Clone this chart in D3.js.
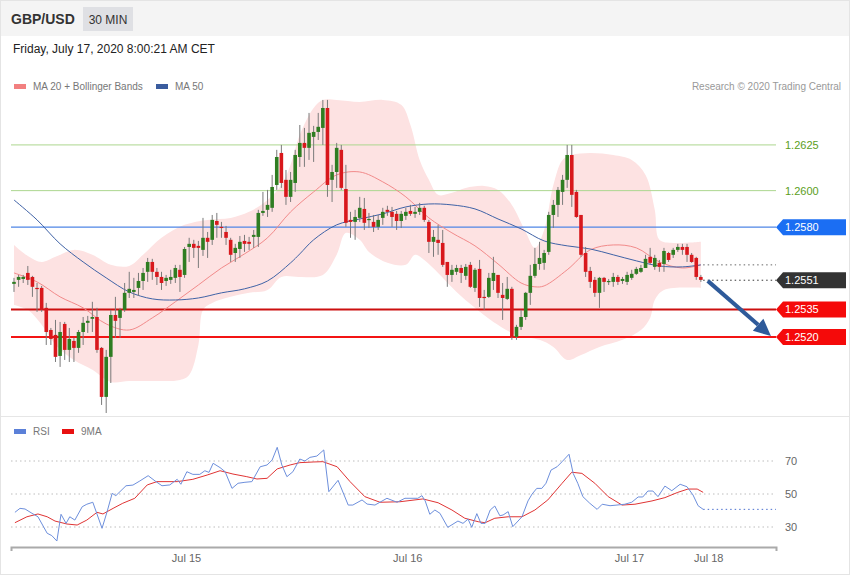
<!DOCTYPE html>
<html><head><meta charset="utf-8">
<script src="https://cdn.jsdelivr.net/npm/d3@7"></script>
<style>body{margin:0;background:#fff}svg{display:block;font-family:"Liberation Sans",Arial,sans-serif}</style>
</head><body><div id="chart"></div>
<script>
// ---------- DATA ----------
const opens = [1.25490,1.25512,1.25517,1.25550,1.25528,1.25468,1.25468,1.25359,1.25238,1.25211,
1.25096,1.25271,1.25129,1.25178,1.25140,1.25227,1.25277,1.25299,1.25309,1.25140,
1.24872,1.25091,1.25320,1.25304,1.25348,1.25441,1.25446,1.25468,1.25506,1.25556,
1.25610,1.25556,1.25528,1.25506,1.25512,1.25523,1.25567,1.25539,1.25692,1.25709,
1.25698,1.25676,1.25742,1.25731,1.25834,1.25802,1.25774,1.25731,1.25659,1.25681,
1.25725,1.25720,1.25747,1.25747,1.25878,1.25895,1.25906,1.26031,1.26206,1.26059,
1.25966,1.26042,1.26184,1.26261,1.26234,1.26294,1.26321,1.26343,1.26452,1.26059,
1.26102,1.26223,1.26009,1.25840,1.25829,1.25851,1.25900,1.25840,1.25829,1.25802,
1.25851,1.25895,1.25884,1.25873,1.25834,1.25862,1.25889,1.25873,1.25884,1.25906,
1.25829,1.25720,1.25731,1.25714,1.25610,1.25539,1.25556,1.25577,1.25534,1.25594,
1.25468,1.25572,1.25419,1.25419,1.25506,1.25539,1.25430,1.25408,1.25463,1.25200,
1.25255,1.25309,1.25441,1.25534,1.25599,1.25605,1.25665,1.25867,1.25922,1.25993,
1.26059,1.26195,1.25993,1.25867,1.25659,1.25561,1.25512,1.25441,1.25523,1.25501,
1.25501,1.25528,1.25506,1.25501,1.25523,1.25545,1.25556,1.25577,1.25638,1.25583,
1.25605,1.25599,1.25659,1.25649,1.25676,1.25692,1.25692,1.25649,1.25632,1.25528];
const highs = [1.25523,1.25539,1.25539,1.25588,1.25534,1.25495,1.25479,1.25386,1.25249,1.25293,
1.25282,1.25282,1.25249,1.25195,1.25238,1.25309,1.25315,1.25392,1.25359,1.25145,
1.25129,1.25348,1.25419,1.25359,1.25495,1.25556,1.25523,1.25550,1.25577,1.25632,
1.25627,1.25577,1.25556,1.25539,1.25567,1.25594,1.25594,1.25692,1.25742,1.25731,
1.25725,1.25851,1.25774,1.25867,1.25878,1.25829,1.25807,1.25742,1.25709,1.25752,
1.25758,1.25747,1.25785,1.25895,1.25993,1.26004,1.26086,1.26223,1.26250,1.26113,
1.26102,1.26223,1.26359,1.26343,1.26425,1.26354,1.26425,1.26496,1.26496,1.26141,
1.26261,1.26250,1.26141,1.25884,1.25895,1.25966,1.25960,1.25878,1.25867,1.25867,
1.25906,1.25917,1.25911,1.25889,1.25889,1.25906,1.25922,1.25911,1.25933,1.25917,
1.25840,1.25785,1.25813,1.25785,1.25610,1.25594,1.25594,1.25594,1.25599,1.25610,
1.25577,1.25621,1.25457,1.25550,1.25638,1.25539,1.25495,1.25528,1.25474,1.25266,
1.25348,1.25446,1.25594,1.25687,1.25720,1.25676,1.25884,1.25949,1.26020,1.26086,
1.26250,1.26250,1.26004,1.25867,1.25692,1.25583,1.25528,1.25528,1.25528,1.25517,
1.25550,1.25539,1.25528,1.25556,1.25567,1.25583,1.25594,1.25649,1.25687,1.25649,
1.25621,1.25687,1.25665,1.25687,1.25709,1.25709,1.25709,1.25659,1.25638,1.25539];
const lows = [1.25446,1.25474,1.25495,1.25484,1.25419,1.25337,1.25337,1.25156,1.25156,1.25063,
1.25036,1.25074,1.25063,1.25063,1.25113,1.25156,1.25222,1.25227,1.25113,1.24828,
1.24784,1.24948,1.25195,1.25195,1.25337,1.25413,1.25413,1.25424,1.25457,1.25501,
1.25512,1.25484,1.25457,1.25479,1.25490,1.25495,1.25446,1.25523,1.25610,1.25632,
1.25577,1.25643,1.25632,1.25703,1.25742,1.25742,1.25703,1.25610,1.25610,1.25632,
1.25665,1.25676,1.25687,1.25692,1.25862,1.25856,1.25884,1.26004,1.26015,1.25922,
1.25938,1.25993,1.26130,1.26130,1.26168,1.26157,1.26277,1.26250,1.25966,1.25938,
1.26015,1.26004,1.25802,1.25742,1.25731,1.25829,1.25785,1.25796,1.25774,1.25785,
1.25813,1.25862,1.25802,1.25785,1.25796,1.25840,1.25862,1.25851,1.25867,1.25829,
1.25659,1.25638,1.25649,1.25583,1.25474,1.25501,1.25539,1.25495,1.25512,1.25468,
1.25446,1.25364,1.25348,1.25413,1.25457,1.25413,1.25293,1.25402,1.25184,1.25184,
1.25238,1.25293,1.25375,1.25523,1.25567,1.25567,1.25649,1.25796,1.25856,1.25922,
1.26015,1.25911,1.25851,1.25638,1.25528,1.25468,1.25419,1.25359,1.25446,1.25484,
1.25474,1.25484,1.25490,1.25484,1.25512,1.25539,1.25550,1.25577,1.25594,1.25567,
1.25556,1.25556,1.25610,1.25632,1.25665,1.25649,1.25610,1.25605,1.25512,1.25501];
const closes = [1.25501,1.25528,1.25528,1.25512,1.25474,1.25463,1.25348,1.25227,1.25189,1.25091,
1.25227,1.25129,1.25189,1.25140,1.25227,1.25277,1.25288,1.25309,1.25129,1.24872,
1.25091,1.25320,1.25288,1.25348,1.25441,1.25463,1.25457,1.25506,1.25550,1.25610,
1.25556,1.25528,1.25495,1.25523,1.25528,1.25577,1.25528,1.25681,1.25709,1.25687,
1.25687,1.25742,1.25720,1.25840,1.25813,1.25796,1.25742,1.25649,1.25687,1.25720,
1.25709,1.25709,1.25758,1.25878,1.25889,1.25922,1.26020,1.26184,1.26042,1.25966,
1.26059,1.26195,1.26261,1.26234,1.26316,1.26321,1.26349,1.26452,1.26031,1.26102,
1.26234,1.26015,1.25824,1.25829,1.25856,1.25906,1.25824,1.25845,1.25802,1.25840,
1.25884,1.25884,1.25856,1.25834,1.25873,1.25884,1.25873,1.25884,1.25906,1.25840,
1.25720,1.25747,1.25714,1.25594,1.25539,1.25567,1.25577,1.25550,1.25583,1.25474,
1.25567,1.25413,1.25413,1.25523,1.25550,1.25441,1.25413,1.25463,1.25200,1.25255,
1.25309,1.25441,1.25534,1.25599,1.25632,1.25659,1.25867,1.25922,1.26004,1.26059,
1.26195,1.25977,1.25856,1.25649,1.25556,1.25501,1.25441,1.25523,1.25501,1.25506,
1.25528,1.25501,1.25517,1.25539,1.25545,1.25572,1.25577,1.25627,1.25605,1.25632,
1.25583,1.25670,1.25621,1.25676,1.25692,1.25676,1.25649,1.25610,1.25528,1.25512];

// MA 50 (blue) sampled at candle indices
const ma50Idx = [0,5,10,15,20,25,30,35,40,45,50,55,60,62,65,70,75,80,85,90,95,100,105,110,115,120,125,130,135,140,145,149];
const ma50Val = [1.25949,1.25840,1.25709,1.25610,1.25523,1.25446,1.25408,1.25402,1.25413,1.25441,1.25463,1.25506,1.25605,1.25654,1.25731,1.25813,1.25845,1.25873,1.25911,1.25927,1.25922,1.25900,1.25845,1.25791,1.25725,1.25698,1.25681,1.25649,1.25616,1.25588,1.25583,1.25594];
// MA 20 (middle Bollinger)
const ma20Idx = [0,5,10,15,20,25,30,35,40,45,50,55,60,65,70,75,80,85,90,95,100,105,110,113,115,120,125,130,135,140,145,149];
const ma20Val = [1.25550,1.25501,1.25419,1.25359,1.25271,1.25238,1.25304,1.25392,1.25484,1.25577,1.25654,1.25742,1.25884,1.25993,1.26086,1.26102,1.26048,1.25966,1.25851,1.25769,1.25698,1.25599,1.25495,1.25474,1.25479,1.25567,1.25676,1.25703,1.25687,1.25610,1.25577,1.25594];
// Bollinger upper band
const upperIdx = [0,3,6,9,13,17,21,25,28,32,37,42,47,51,55,58,60,62,65,67,70,75,80,84,86,88,90,92,95,98,102,105,108,111,113,115,117,119,121,125,130,134,137,139,140,143,149];
const upperVal = [1.25703,1.25643,1.25610,1.25638,1.25676,1.25649,1.25594,1.25588,1.25649,1.25742,1.25813,1.25840,1.25851,1.25884,1.25949,1.26031,1.26141,1.26305,1.26452,1.26496,1.26496,1.26485,1.26496,1.26469,1.26359,1.26168,1.26059,1.25977,1.25988,1.26015,1.26026,1.26004,1.25922,1.25774,1.25687,1.25785,1.26031,1.26168,1.26195,1.26206,1.26195,1.26168,1.26086,1.25895,1.25731,1.25714,1.25720];
// Bollinger lower band
const lowerIdx = [0,3,6,9,13,17,21,25,30,36,38,40,41,43,47,51,55,58,62,67,70,72,75,77,81,85,87,89,92,96,100,104,109,114,117,120,123,127,132,136,138,139,141,149];
const lowerVal = [1.25375,1.25348,1.25266,1.25156,1.25074,1.25020,1.24954,1.24959,1.24959,1.24965,1.24992,1.25156,1.25348,1.25386,1.25419,1.25441,1.25457,1.25528,1.25528,1.25539,1.25649,1.25769,1.25731,1.25665,1.25605,1.25594,1.25649,1.25621,1.25550,1.25446,1.25359,1.25282,1.25211,1.25184,1.25145,1.25074,1.25101,1.25145,1.25184,1.25238,1.25304,1.25402,1.25457,1.25468];

// RSI and its 9-period MA
const rsiIdx = [0.2,1.3,2.4,3.9,5.2,7.2,8.2,9.3,10.2,11.3,12.1,13.2,14.8,15.8,17.1,19.1,20.2,21.3,22.1,24.3,25.8,27.3,29.1,30.6,32.1,33.8,35.4,36.2,37.5,38.8,40.3,41.4,42.3,43.2,44.7,45.8,47.3,48.6,50.1,51.6,53.4,54.9,56,57.1,58.1,59.2,60.5,62,63.1,64.2,65.7,67.2,68.3,70.3,72.5,73.5,75.5,76.6,78.3,80.9,83.1,84.8,87.6,88.5,89.2,90.2,91.3,92.4,94.1,96.3,97.4,98.5,99.3,100.4,101.3,102.2,103.3,104.3,105.4,106.1,107.2,108.2,110.2,111.5,112.4,113.4,114.5,115.4,116.5,117.8,118.9,120.4,121.3,122.3,123.4,124.9,126.5,127.6,129.3,130.8,132.5,134,135.4,136.4,137.5,138.6,139.7,141.2,142.7,144.5,146,147.3,148.4,149.5];
const rsiVal = [38.9,41.3,40.9,38.3,36.2,26.2,24.8,21.5,37.7,32.2,36.2,34.2,42.3,43.8,45,29.2,39.3,50.4,49,55,55.4,57.9,61.1,57.9,55,55.5,58.9,55.9,63.5,61.9,61.9,64.1,63.1,68.6,66,63.5,53.4,56.5,57.1,57.5,66.5,67.6,70.6,78.3,67.6,60.5,63.5,71.2,70,72.2,73,76.7,51.4,58.3,43.3,43.3,46.4,43.9,43.3,47.4,45,47.4,47.4,49,45.8,37.7,40.3,38.3,29.8,33.6,32.2,34.8,29.8,38.1,32.2,32.2,40.3,42.7,36.8,37.3,39.3,30.2,36.2,45.8,50,53.4,53.4,56.5,64.5,66.5,69.6,74.1,62.5,56.5,48.4,44.4,40.7,43.8,42.9,43.3,43.8,45,48.2,48.2,51.8,51.8,48.4,54.8,52,55.9,54.4,49.4,42.9,40.7];
const rsiMaIdx = [0.2,2.8,5.2,7.2,8.9,11.5,13.7,15.8,18,19.3,21.5,23.6,26.2,28.9,31,35.4,38.8,41.9,44.7,47.5,50.5,52.7,54.9,57.1,59.9,62,64.9,67,70.1,72.9,76.1,79.4,83.7,88.7,92,95,97.8,100.7,102.2,104.3,107.2,110.2,113,115.8,118.9,121,123.2,126,128.9,131.9,134.7,138.4,141.2,144,146.2,148.2,149.5];
const rsiMaVal = [32.6,36.2,37.9,36.2,33.6,31.8,31.2,34.2,38.9,37.9,41.3,44.4,47.4,55.5,57.5,57.5,58.9,61.5,64.1,62.1,60.5,59.1,59.5,65.2,67.6,69,69.4,69.6,66.5,57.5,48.4,45,45.3,47,44.7,40.3,35.3,33.2,32.6,35.3,36.2,36.2,40.3,46.4,56.5,63.2,62.5,56.5,48.4,43.3,43.8,45.8,47.8,51,53,53,51];
const rsiLevels = [70, 50, 30];

// Key levels
const levelValues = [1.2625, 1.2600, 1.2580, 1.2551, 1.2535, 1.2520];
const levelLabels = ["1.2625", "1.2600", "1.2580", "1.2551", "1.2535", "1.2520"];
const maLevel = 1.25594;      // dotted MA level projected to the right
const targetPrice = 1.2520;   // arrow target

// Time axis (candle index of each date tick)
const tickIdx = [37.3, 85.3, 133.4, 150.6];
const tickLabels = ["Jul 15", "Jul 16", "Jul 17", "Jul 18"];

// ---------- DRAW ----------
const W = 850, H = 576;
const svg = d3.select("#chart").append("svg").attr("width", W).attr("height", H);
svg.append("rect").attr("x",0.5).attr("y",0.5).attr("width",W-1).attr("height",H-2).attr("fill","#fff").attr("stroke","#e4e4e4");

// header
svg.append("rect").attr("x",1).attr("y",1).attr("width",W-2).attr("height",35).attr("fill","#f4f4f4");
svg.append("text").attr("x",11).attr("y",24).attr("font-size",14).attr("font-weight","bold").attr("fill","#333").text("GBP/USD");
svg.append("rect").attr("x",83).attr("y",7).attr("width",50).attr("height",24).attr("fill","#dfe0e4");
svg.append("text").attr("x",108).attr("y",23.5).attr("text-anchor","middle").attr("font-size",12).attr("fill","#333").text("30 MIN");
svg.append("text").attr("x",13).attr("y",53).attr("font-size",12).attr("fill","#222").text("Friday, July 17, 2020 8:00:21 AM CET");

// legend
svg.append("rect").attr("x",14).attr("y",84).attr("width",12).attr("height",5).attr("fill","#f28080");
svg.append("text").attr("x",33).attr("y",90).attr("font-size",10).attr("fill","#777").text("MA 20 + Bollinger Bands");
svg.append("rect").attr("x",156).attr("y",84).attr("width",12).attr("height",5).attr("fill","#3a5c9e");
svg.append("text").attr("x",175).attr("y",90).attr("font-size",10).attr("fill","#777").text("MA 50");
svg.append("text").attr("x",841).attr("y",90).attr("text-anchor","end").attr("font-size",10).attr("fill","#999").text("Research \u00a9 2020 Trading Central");

// panel separator
svg.append("line").attr("x1",1).attr("x2",W-1).attr("y1",416.5).attr("y2",416.5).attr("stroke","#e6e6e6");

const x = d3.scaleLinear().domain([-0.65, 165.3]).range([11, 776]);
const y = d3.scaleLinear().domain([1.24773, 1.26523]).range([415, 95]);
const ry = d3.scaleLinear().domain([30, 70]).range([527, 461]);

// Bollinger band area
const upPts = upperIdx.map((d,i)=>[x(d), y(upperVal[i])]);
const loPts = lowerIdx.map((d,i)=>[x(d), y(lowerVal[i])]).reverse();
const lineGen = d3.line().curve(d3.curveCatmullRom.alpha(0.5));
const bandPath = lineGen(upPts) + "L" + lineGen(loPts).slice(1) + "Z";
svg.append("path").attr("d", bandPath).attr("fill","#fde2e2").attr("stroke","none");

// levels
const levelStyle = [
  {line:"#acd68f", w:1, dash:null, text:"#5b9e1c", box:null},
  {line:"#acd68f", w:1, dash:null, text:"#5b9e1c", box:null},
  {line:"#4f86e6", w:1.2, dash:null, text:"#fff", box:"#1b6ef3"},
  {line:"#333", w:1, dash:"1.5,3", text:"#fff", box:"#333"},
  {line:"#cc0f0f", w:2, dash:null, text:"#fff", box:"#f50a0a"},
  {line:"#f31414", w:2, dash:null, text:"#fff", box:"#f50a0a"}
];
levelValues.forEach((v,i)=>{
  const st = levelStyle[i], yy = y(v);
  const x1 = (i===3) ? x(149.5) : 11;
  const ln = svg.append("line").attr("x1",x1).attr("x2",776).attr("y1",yy).attr("y2",yy)
    .attr("stroke",st.line).attr("stroke-width",st.w);
  if (st.dash) ln.attr("stroke-dasharray",st.dash);
  if (st.box) {
    svg.append("path").attr("d",`M776,${yy}L783,${yy-8}H846V${yy+8}H783Z`).attr("fill",st.box);
  }
  svg.append("text").attr("x",785).attr("y",yy+4).attr("font-size",11).attr("fill",st.text).text(levelLabels[i]);
});
// dotted MA level
svg.append("line").attr("x1",x(149.5)).attr("x2",776).attr("y1",y(maLevel)).attr("y2",y(maLevel))
  .attr("stroke","#666").attr("stroke-dasharray","1.5,3");

// MA lines
const mline = d3.line().curve(d3.curveCatmullRom.alpha(0.5));
svg.append("path").attr("d", mline(ma20Idx.map((d,i)=>[x(d), y(ma20Val[i])])))
  .attr("fill","none").attr("stroke","#f28a8a").attr("stroke-width",1);
svg.append("path").attr("d", mline(ma50Idx.map((d,i)=>[x(d), y(ma50Val[i])])))
  .attr("fill","none").attr("stroke","#3f62a6").attr("stroke-width",1);

// candles
const bw = 3.6;
const cg = svg.append("g");
opens.forEach((o,i)=>{
  const c = closes[i], up = c >= o;
  const cx = x(i);
  cg.append("line").attr("x1",cx).attr("x2",cx).attr("y1",y(highs[i])).attr("y2",y(lows[i]))
    .attr("stroke","#7a7a7a").attr("stroke-width",1);
  const yt = y(Math.max(o,c)), yb = y(Math.min(o,c));
  cg.append("rect").attr("x",cx-bw/2).attr("y",yt).attr("width",bw).attr("height",Math.max(1.2,yb-yt))
    .attr("fill", up ? "#2f7d22" : "#d8181c");
});

// arrow
const ax1 = x(150.5), ay1 = y(closes[closes.length-1]) + 1;
const ax2 = x(164.2), ay2 = y(targetPrice) - 1;
const ang = Math.atan2(ay2-ay1, ax2-ax1);
const hl = 17, hw = 8;
const bx = ax2 - hl*Math.cos(ang), by = ay2 - hl*Math.sin(ang);
svg.append("line").attr("x1",ax1).attr("y1",ay1).attr("x2",bx).attr("y2",by)
  .attr("stroke","#2e5a9a").attr("stroke-width",4);
svg.append("path").attr("d",`M${ax2},${ay2}L${bx+hw*Math.sin(ang)},${by-hw*Math.cos(ang)}L${bx-hw*Math.sin(ang)},${by+hw*Math.cos(ang)}Z`)
  .attr("fill","#2e5a9a");

// ---------- RSI panel ----------
svg.append("rect").attr("x",14).attr("y",429).attr("width",12).attr("height",5).attr("fill","#5b80d8");
svg.append("text").attr("x",33).attr("y",435).attr("font-size",10).attr("fill","#777").text("RSI");
svg.append("rect").attr("x",62).attr("y",429).attr("width",12).attr("height",5).attr("fill","#e81010");
svg.append("text").attr("x",81).attr("y",435).attr("font-size",10).attr("fill","#777").text("9MA");

rsiLevels.forEach(v=>{
  svg.append("line").attr("x1",11).attr("x2",776).attr("y1",ry(v)).attr("y2",ry(v))
    .attr("stroke","#bdbdbd").attr("stroke-dasharray","1.5,3");
  svg.append("text").attr("x",785).attr("y",ry(v)+4).attr("font-size",11).attr("fill","#666").text(v);
});
const rl = d3.line();
svg.append("path").attr("d", rl(rsiMaIdx.map((d,i)=>[x(d), ry(rsiMaVal[i])])))
  .attr("fill","none").attr("stroke","#e03434").attr("stroke-width",1);
svg.append("path").attr("d", rl(rsiIdx.map((d,i)=>[x(d), ry(rsiVal[i])])))
  .attr("fill","none").attr("stroke","#6d8fdc").attr("stroke-width",1);
svg.append("line").attr("x1",x(rsiIdx[rsiIdx.length-1])).attr("x2",776)
  .attr("y1",ry(rsiVal[rsiVal.length-1])).attr("y2",ry(rsiVal[rsiVal.length-1]))
  .attr("stroke","#4a6fcf").attr("stroke-dasharray","1.5,3");

// time axis
const axis = d3.axisBottom(x).tickValues(tickIdx).tickFormat((d,i)=>tickLabels[i])
  .tickSizeInner(0).tickSizeOuter(4).tickPadding(7);
const ag = svg.append("g").attr("transform","translate(0,547)").call(axis);
ag.select(".domain").attr("stroke","#aaa").attr("stroke-width",2);
ag.selectAll("text").attr("font-size",11).attr("fill","#666").attr("font-family","Liberation Sans, Arial, sans-serif");
</script></body></html>
